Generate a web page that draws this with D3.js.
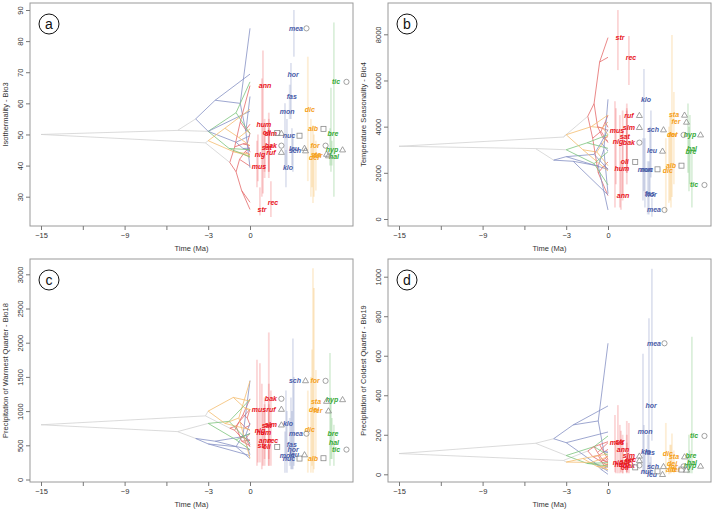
<!DOCTYPE html>
<html><head><meta charset="utf-8">
<script src="https://cdn.jsdelivr.net/npm/d3@7"></script>
<style>
html,body{margin:0;padding:0;background:#fff;}
svg{display:block;}
text{font-family:"Liberation Sans",Arial,Helvetica,sans-serif;}
</style></head>
<body>
<svg id="chart" width="716" height="512"></svg>
<script>
// ---------------- DATA ----------------
const species = ["str","rec","mus","nig","sat","ann","hum","oli","bak","ruf","slm",
  "mea","fas","klo","hor","mon","nuc","leu","sch",
  "dic","alb","for","sta","fer","dei",
  "tic","bre","hyp","hal"];
const speciesClade = ["red","red","red","red","red","red","red","red","red","red","red",
  "blue","blue","blue","blue","blue","blue","blue","blue",
  "orange","orange","orange","orange","orange","orange",
  "green","green","green","green"];
// label column position (Ma units on the time axis, right of the tips)
const speciesX = [0.86,1.65,0.65,0.72,1.2,1.08,1.0,1.2,1.5,1.5,1.5,
  3.3,3.0,2.73,3.09,2.66,2.8,3.16,3.23,
  4.3,4.52,4.67,4.74,4.88,4.6,
  6.17,5.96,5.89,6.03];
const speciesSymbol = ["","","","","","","","square","circle","triangle","triangle",
  "circle","","","","","square","triangle","triangle",
  "","square","circle","triangle","triangle","",
  "circle","","triangle",""];
const tipParent = ["R2","R2","R3","R4","R4","R6","R7","R7","R8","R9","R9",
  "B2","B3","B3","B1","B4","B5","B6","B6",
  "O1","O2","O2","O3","O4","O4",
  "G1","G1","G2","G2"];

// internal nodes of the tree
const nodeNames  = ["root","n1","n2","B0","B1","B2","B3","B4","B5","B6","G0","G1","G2","O0","O1","O2","O3","O4","Rd0","R1","R2","R3","R4","R5","R6","R7","R8","R9"];
const nodeParent = [null,"root","root","n1","B0","B1","B2","B0","B4","B5","n1","G0","G0","n2","O0","O1","O0","O3","n2","Rd0","R1","R1","R3","Rd0","R5","R6","R5","R8"];
const nodeTime   = [-15,-5.2,-3.2,-3.9,-2.5,-0.7,-0.3,-3.0,-1.0,-0.5,-3.0,-1.0,-1.5,-3.0,-1.8,-0.8,-1.2,-0.4,-1.45,-1.0,-0.6,-0.75,-0.35,-1.1,-0.7,-0.3,-0.5,-0.2];
const nodeClade  = ["grey","grey","grey","blue","blue","blue","blue","blue","blue","blue","green","green","green","orange","orange","orange","orange","orange","red","red","red","red","red","red","red","red","red","red"];

// Bio3 - Isothermality
const bio3Tips  = [25.9,28.2,39.8,43.5,45.7,65.7,53.3,50.5,46.4,44.3,50.4, 84.1,62.2,39.3,69.4,57.5,49.6,45.6,44.8, 58.1,51.8,46.4,43.7,43.2,42.6, 66.9,50.2,45.1,42.8];
const bio3Min   = [24,23.5,33,35,38,31,30,36,38,38,36, 75,55,33,55,40,40,40,38, 35,30,28,30,32,33, 30,38,40,40];
const bio3Max   = [33,35,48,50,53,77,68,55,55,52,57, 90,66,45,73,60,55,52,50, 75,55,53,50,48,47, 86,65,52,48];
const bio3Nodes = [50,51.3,47.3,55,61,60,51,51,47.5,45.5,51,57,45.5,48,52,49,44.5,43.5,41,38,32,42,44.5,46,54,51.5,47,47];
const bio3Ticks = [30,40,50,60,70,80,90];

// Bio4 - Temperature Seasonality
const bio4Tips  = [7856,7004,3841,3365,3567,1011,2166,2469,3307,4491,3971, 390,1100,5184,1040,2150,2152,2946,3870, 2080,2310,3640,4505,4202,3660, 1473,2917,3650,3060];
const bio4Min   = [6450,5800,500,1500,1000,400,500,800,2000,2000,1500, 100,200,1200,200,800,500,1000,1800, 300,700,500,950,1500,800, 500,1200,2000,1500];
const bio4Max   = [9050,7930,5100,4800,4700,2500,4500,3800,4700,5000,4800, 900,2500,6500,2500,3500,3500,4000,4700, 3500,4000,4500,7970,5500,4500, 3000,4000,5000,4500];
const bio4Nodes = [3150,3050,3550,2550,2500,2300,3000,2700,2800,3300,3000,2400,3300,3650,3000,2900,4000,3950,4450,5000,6800,4000,3500,3500,2000,2300,3800,4200];
const bio4Ticks = [0,2000,4000,6000,8000];

// Bio18 - Precipitation of Warmest Quarter
const bio18Tips  = [495,573,1029,718,790,573,680,476,1180,1029,800, 670,510,825,432,350,306,364,1447, 728,311,1442,1146,1005,1024, 437,670,1170,534];
const bio18Min   = [250,200,200,250,300,200,150,200,200,300,200, 200,200,300,150,100,100,150,150, 100,100,100,150,300,200, 200,300,200,300];
const bio18Max   = [1700,1300,1750,1000,1200,1000,1400,1100,2150,1400,1100, 1500,900,1300,1200,700,1000,1000,2060, 1300,1500,3090,2800,1600,1900, 800,1200,1850,900];
const bio18Nodes = [800,700,930,600,560,620,650,520,480,650,820,580,850,1000,820,900,1200,1050,750,780,560,850,760,720,630,600,950,900];
const bio18Ticks = [0,500,1000,1500,2000,2500,3000];

// Bio19 - Precipitation of Coldest Quarter
const bio19Tips  = [165,75,160,60,65,126,50,35,45,70,93, 663,110,113,346,214,15,0,40, 103,24,40,89,22,56, 194,96,42,59];
const bio19Min   = [5,5,10,5,5,10,5,5,10,10,5, 170,10,10,40,5,0,0,5, 5,0,5,10,5,5, 5,10,5,5];
const bio19Max   = [350,260,300,170,200,220,250,130,160,200,270, 1040,200,250,790,610,100,60,90, 260,80,150,207,120,150, 696,200,100,120];
const bio19Nodes = [105,157,70,180,250,270,115,160,60,25,95,140,55,62,80,40,60,40,118,140,150,110,70,90,95,45,65,80];
const bio19Ticks = [0,200,400,600,800,1000];

const timeTicks = [-15,-12,-9,-6,-3,0];
const timeLabels = ["\u221215","","\u22129","","\u22123","0"];

// ---------------- STYLE / LAYOUT ----------------
const labelColor = {red:"#e8141c", blue:"#4a5ca8", orange:"#f5a01a", green:"#35a935"};
const edgeColor  = {red:"#e46a6a", blue:"#8590c4", orange:"#f4bd6e", green:"#7cc47c", grey:"#d2d2d2"};
const rangeColor = {red:"#e8141c", blue:"#4a5ca8", orange:"#f5a01a", green:"#35a935"};

const panels = [
  {letter:"a", title:"Isothermality - Bio3", tips:bio3Tips, nodes:bio3Nodes, mn:bio3Min, mx:bio3Max, ticks:bio3Ticks, ox:0,   oy:0,   yr:[196.7,10]},
  {letter:"b", title:"Temperature Seasonality - Bio4", tips:bio4Tips, nodes:bio4Nodes, mn:bio4Min, mx:bio4Max, ticks:bio4Ticks, ox:358, oy:0,   yr:[219,34.3]},
  {letter:"c", title:"Precipitation of Warmest Quarter - Bio18", tips:bio18Tips, nodes:bio18Nodes, mn:bio18Min, mx:bio18Max, ticks:bio18Ticks, ox:0,   oy:256, yr:[223.5,18.3]},
  {letter:"d", title:"Precipitation of Coldest Quarter - Bio19", tips:bio19Tips, nodes:bio19Nodes, mn:bio19Min, mx:bio19Max, ticks:bio19Ticks, ox:358, oy:256, yr:[218.3,20.7]}
];
const box = {l:30, r:353, t:3, b:226};

const svg = d3.select("#chart");

panels.forEach(p => {
  const g = svg.append("g").attr("transform", `translate(${p.ox},${p.oy})`);
  const x = d3.scaleLinear().domain([-15, 0]).range([41, 250]);
  const y = d3.scaleLinear().domain([p.ticks[0], p.ticks[p.ticks.length-1]]).range(p.yr);

  // box
  g.append("rect").attr("x", box.l).attr("y", box.t).attr("width", box.r-box.l).attr("height", box.b-box.t)
    .attr("fill","none").attr("stroke","#9a9a9a").attr("stroke-width",1);

  // x axis
  const xa = g.append("g").attr("transform", `translate(0,${box.b})`)
    .call(d3.axisBottom(x).tickValues(timeTicks).tickSize(4).tickPadding(3)
      .tickFormat((d,i)=>timeLabels[i]));
  xa.select(".domain").remove();
  xa.selectAll("line").attr("stroke","#777");
  xa.selectAll("text").attr("font-size","7.5px").attr("fill","#333");

  // y axis
  const ya = g.append("g").attr("transform", `translate(${box.l},0)`)
    .call(d3.axisLeft(y).tickValues(p.ticks).tickSize(4).tickFormat(d3.format("d")));
  ya.select(".domain").remove();
  ya.selectAll("line").attr("stroke","#777");
  ya.selectAll("text").attr("font-size","7.5px").attr("fill","#333")
    .attr("x", null).attr("dy", null)
    .attr("text-anchor","middle")
    .attr("transform","translate(-7,0) rotate(-90)");

  // titles
  g.append("text").attr("x", (box.l+box.r)/2).attr("y", 251).attr("text-anchor","middle")
    .attr("font-size","7.5px").attr("fill","#333").text("Time (Ma)");
  g.append("text").attr("transform", `translate(7.5,${(box.t+box.b)/2}) rotate(-90)`).attr("text-anchor","middle")
    .attr("font-size","7.5px").attr("fill","#333").text(p.title);

  // tree edges
  const nodeIdx = {};
  nodeNames.forEach((n,i)=>nodeIdx[n]=i);
  const edges = [];
  nodeNames.forEach((n,i)=>{
    const par = nodeParent[i];
    if (par===null) return;
    const j = nodeIdx[par];
    const col = (nodeClade[j]===nodeClade[i]) ? nodeClade[i] : "grey";
    edges.push({x1:nodeTime[j], y1:p.nodes[j], x2:nodeTime[i], y2:p.nodes[i], c:col});
  });
  species.forEach((s,i)=>{
    const j = nodeIdx[tipParent[i]];
    edges.push({x1:nodeTime[j], y1:p.nodes[j], x2:0, y2:p.tips[i], c:speciesClade[i]});
  });
  edges.sort((a,b)=> (a.c==="grey"?0:1) - (b.c==="grey"?0:1));
  g.append("g").selectAll("line").data(edges).join("line")
    .attr("x1",d=>x(d.x1)).attr("y1",d=>y(d.y1))
    .attr("x2",d=>x(d.x2)).attr("y2",d=>y(d.y2))
    .attr("stroke",d=>edgeColor[d.c]).attr("stroke-width",0.8);

  // range lines
  g.append("g").selectAll("line").data(species).join("line")
    .attr("x1",(d,i)=>x(speciesX[i]-0.15)).attr("x2",(d,i)=>x(speciesX[i]-0.15))
    .attr("y1",(d,i)=>y(p.mn[i])).attr("y2",(d,i)=>y(p.mx[i]))
    .attr("stroke",(d,i)=>rangeColor[speciesClade[i]]).attr("stroke-opacity",0.18).attr("stroke-width",1.8);

  // labels
  g.append("g").selectAll("text").data(species).join("text")
    .attr("x",(d,i)=>x(speciesX[i])).attr("y",(d,i)=>y(p.tips[i])).attr("dy","0.35em")
    .attr("text-anchor","middle").attr("font-size","7px").attr("font-weight","bold").attr("font-style","italic")
    .attr("fill",(d,i)=>labelColor[speciesClade[i]]).text(d=>d);

  // symbols
  const sym = g.append("g").attr("fill","none").attr("stroke","#8a8a8a").attr("stroke-width",0.8);
  species.forEach((s,i)=>{
    const t = speciesSymbol[i];
    if (!t) return;
    const cx = x(speciesX[i]) + 10.5, cy = y(p.tips[i]);
    if (t==="circle") sym.append("circle").attr("cx",cx).attr("cy",cy).attr("r",2.6);
    else if (t==="square") sym.append("rect").attr("x",cx-2.5).attr("y",cy-2.5).attr("width",5).attr("height",5);
    else sym.append("path").attr("d",`M${cx},${cy-3}L${cx+3},${cy+2.2}L${cx-3},${cy+2.2}Z`);
  });

  // panel letter
  g.append("circle").attr("cx",49).attr("cy",24).attr("r",10).attr("fill","#fff").attr("stroke","#111").attr("stroke-width",1);
  g.append("text").attr("x",49).attr("y",24).attr("dy","0.36em").attr("text-anchor","middle")
    .attr("font-size","14px").attr("fill","#111").text(p.letter);
});
</script>
</body></html>
